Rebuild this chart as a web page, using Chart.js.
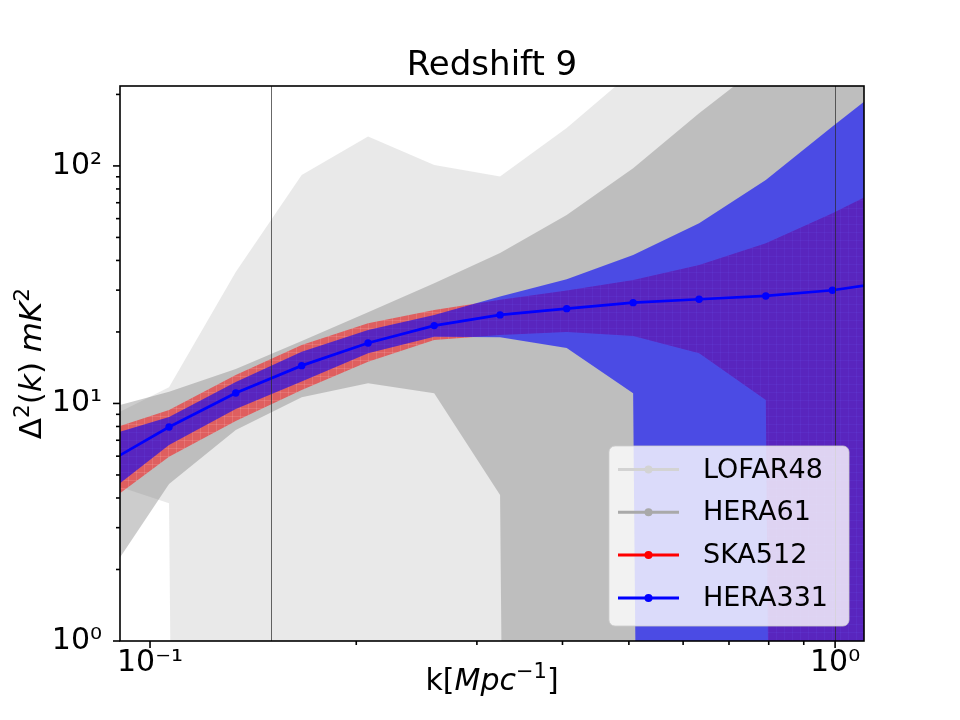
<!DOCTYPE html>
<html lang="en">
<head>
<meta charset="UTF-8" />
<title>Redshift 9</title>
<script src="https://cdn.jsdelivr.net/npm/chart.js"></script>
<style>
  html, body { margin: 0; padding: 0; background: #fff; }
  #chart { display: block; }
</style>
</head>
<body>
<canvas id="chart" width="960" height="720"></canvas>
<script>
// k bins [Mpc^-1] (first and last lie just outside the axes)
const kValues = [0.0853, 0.1066, 0.1334, 0.1665, 0.2081, 0.2599, 0.3243, 0.4057, 0.5072, 0.6331, 0.7922, 0.991, 1.24];

// lower bound that is zero / not detected: drops off the log axis
const F = 1e-30;

// fiducial power spectrum (HERA331 line)
const hera331Line  = [5.5, 7.96, 11.07, 14.43, 17.98, 21.27, 23.59, 25.07, 26.57, 27.46, 28.36, 29.97, 32.9];

// error bands, upper / lower
const lofarUpper   = [8.5, 11.7, 35.8, 91.6, 132.9, 101, 90.2, 144.5, 250, 400, 600, 900, 1300];
const lofarLower   = [4.7, 3.8, F, F, F, F, F, F, F, F, F, F, F];
const hera61Upper  = [9.42, 11.2, 13.97, 18.3, 24.2, 32.1, 43.0, 62.2, 97.8, 166.7, 275, 470, 800];
const hera61Lower  = [1.75, 4.58, 7.74, 10.62, 12.17, 11.04, 4.12, F, F, F, F, F, F];
const ska512Upper  = [7.62, 9.39, 13.18, 17.63, 21.77, 24.76, 27.3, 29.86, 33.1, 38.3, 47.3, 63.2, 87.3];
const ska512Lower  = [3.70, 5.97, 8.44, 11.4, 15.0, 18.5, 19.43, 20.0, 19.24, 16.27, 10.35, F, F];
const hera331Upper = [7.23, 8.77, 12.32, 16.52, 20.4, 23.6, 28.2, 33.3, 42.2, 57.4, 87.3, 146.4, 244];
const hera331Lower = [4.05, 6.69, 9.48, 12.36, 16.27, 19.11, 19.0, 17.1, 11.04, F, F, F, F];

// axes
const xLimits = [0.0904, 1.102];
const yLimits = [1, 217];
const xTickValues = [0.1, 1];
const xTickLabels = ['10\u207B\u00B9', '10\u2070'];
const yTickValues = [1, 10, 100];
const yTickLabels = ['10\u2070', '10\u00B9', '10\u00B2'];
const kLines = [0.15, 1.0];

const legendNames  = ['LOFAR48', 'HERA61', 'SKA512', 'HERA331'];
const legendColors = ['#d3d3d3', '#a9a9a9', '#ff0000', '#0000ff'];

const FONT = '"DejaVu Sans"';

// red band is (faintly) hatched in the original
function hatch() {
  const c = document.createElement('canvas');
  c.width = 8; c.height = 8;
  const g = c.getContext('2d');
  g.fillStyle = 'rgba(255,0,0,0.5)';
  g.fillRect(0, 0, 8, 8);
  g.fillStyle = 'rgba(255,200,200,0.18)';
  g.fillRect(0, 0, 8, 1);
  g.fillRect(0, 0, 1, 8);
  return g.createPattern(c, 'repeat');
}

const pts = vals => kValues.map((k, i) => ({ x: k, y: vals[i] }));

function band(upper, lower, color, order) {
  const common = { borderColor: 'transparent', borderWidth: 0, pointRadius: 0, order: order };
  return [
    Object.assign({ data: pts(upper), fill: '+1', backgroundColor: color }, common),
    Object.assign({ data: pts(lower), fill: false }, common)
  ];
}

// draw text made of plain / italic / superscript parts, centred on 0
function drawRich(ctx, parts, size) {
  let w = 0;
  const m = parts.map(p => {
    const s = p.sup ? size * 0.7 : size;
    const f = (p.it ? 'italic ' : '') + s + 'px ' + FONT;
    ctx.font = f;
    const pw = ctx.measureText(p.t).width;
    w += pw;
    return { f, pw };
  });
  let x = -w / 2;
  ctx.textAlign = 'left';
  ctx.textBaseline = 'alphabetic';
  parts.forEach((p, i) => {
    ctx.font = m[i].f;
    ctx.fillText(p.t, x, p.sup ? -size * 0.4 : 0);
    x += m[i].pw;
  });
}

const decorations = {
  id: 'decorations',
  afterDatasetsDraw(chart) {
    const ctx = chart.ctx, a = chart.chartArea;
    const xs = chart.scales.x, ys = chart.scales.y;
    ctx.save();
    // vertical marker lines
    ctx.beginPath();
    ctx.rect(a.left, a.top, a.right - a.left, a.bottom - a.top);
    ctx.clip();
    ctx.strokeStyle = 'rgba(40,40,40,0.7)';
    ctx.lineWidth = 1;
    kLines.forEach(k => {
      const px = Math.round(xs.getPixelForValue(k)) + 0.5;
      ctx.beginPath();
      ctx.moveTo(px, a.top);
      ctx.lineTo(px, a.bottom);
      ctx.stroke();
    });
    ctx.restore();

    ctx.save();
    ctx.strokeStyle = '#000';
    ctx.lineWidth = 1.6;
    // tick marks (major 7px, minor 4px)
    for (let e = -2; e <= 2; e++) {
      for (let m = 1; m <= 9; m++) {
        const v = m * Math.pow(10, e);
        const len = m === 1 ? 7 : 4;
        if (v >= xLimits[0] && v <= xLimits[1]) {
          const px = xs.getPixelForValue(v);
          ctx.beginPath(); ctx.moveTo(px, a.bottom); ctx.lineTo(px, a.bottom + len); ctx.stroke();
        }
        if (v >= yLimits[0] && v <= yLimits[1]) {
          const py = ys.getPixelForValue(v);
          ctx.beginPath(); ctx.moveTo(a.left, py); ctx.lineTo(a.left - len, py); ctx.stroke();
        }
      }
    }
    // frame
    ctx.strokeRect(a.left, a.top, a.right - a.left, a.bottom - a.top);
    ctx.restore();
  },
  afterDraw(chart) {
    const ctx = chart.ctx, a = chart.chartArea;
    const cx = (a.left + a.right) / 2, cy = (a.top + a.bottom) / 2;
    ctx.save();
    ctx.fillStyle = '#000';

    // title
    ctx.font = '34px ' + FONT;
    ctx.textAlign = 'center';
    ctx.textBaseline = 'alphabetic';
    ctx.fillText('Redshift 9', cx, 75);

    // x label
    ctx.save();
    ctx.translate(cx, 690);
    drawRich(ctx, [{ t: 'k[' }, { t: 'Mpc', it: 1 }, { t: '\u22121', sup: 1 }, { t: ']' }], 30);
    ctx.restore();

    // y label
    ctx.save();
    ctx.translate(41, cy);
    ctx.rotate(-Math.PI / 2);
    drawRich(ctx, [{ t: '\u0394' }, { t: '2', sup: 1 }, { t: '(' }, { t: 'k', it: 1 }, { t: ')' },
                   { t: ' ' }, { t: 'mK', it: 1 }, { t: '2', sup: 1 }], 31);
    ctx.restore();

    // legend
    const bx = 609, by = 446, bw = 240, bh = 180, r = 6;
    ctx.beginPath();
    ctx.moveTo(bx + r, by);
    ctx.arcTo(bx + bw, by, bx + bw, by + bh, r);
    ctx.arcTo(bx + bw, by + bh, bx, by + bh, r);
    ctx.arcTo(bx, by + bh, bx, by, r);
    ctx.arcTo(bx, by, bx + bw, by, r);
    ctx.closePath();
    ctx.fillStyle = 'rgba(255,255,255,0.8)';
    ctx.fill();
    ctx.strokeStyle = 'rgba(204,204,204,0.8)';
    ctx.lineWidth = 1;
    ctx.stroke();

    ctx.font = '27px ' + FONT;
    ctx.textAlign = 'left';
    ctx.textBaseline = 'middle';
    legendNames.forEach((name, i) => {
      const y = 469.5 + i * 42.8;
      ctx.strokeStyle = legendColors[i];
      ctx.lineWidth = 3;
      ctx.beginPath(); ctx.moveTo(618, y); ctx.lineTo(679, y); ctx.stroke();
      ctx.fillStyle = legendColors[i];
      ctx.beginPath(); ctx.arc(648.5, y, 4, 0, Math.PI * 2); ctx.fill();
      ctx.fillStyle = '#000';
      ctx.fillText(name, 703, y + 1);
    });
    ctx.restore();
  }
};

const datasets = [
  {
    data: pts(hera331Line),
    borderColor: '#0000ff',
    backgroundColor: '#0000ff',
    borderWidth: 2.7,
    pointRadius: 3.7,
    pointBorderWidth: 0,
    fill: false,
    order: 0
  },
  ...band(hera331Upper, hera331Lower, 'rgba(0,0,255,0.6)', 1),
  ...band(ska512Upper, ska512Lower, hatch(), 2),
  ...band(hera61Upper, hera61Lower, 'rgba(128,128,128,0.4)', 3),
  ...band(lofarUpper, lofarLower, 'rgba(211,211,211,0.5)', 4)
];

new Chart(document.getElementById('chart'), {
  type: 'line',
  data: { datasets: datasets },
  options: {
    responsive: false,
    devicePixelRatio: 1,
    animation: false,
    events: [],
    layout: { padding: { top: 86, right: 96, left: 0, bottom: 0 } },
    elements: { line: { tension: 0 } },
    plugins: {
      legend: { display: false },
      title: { display: false },
      tooltip: { enabled: false }
    },
    scales: {
      x: {
        type: 'logarithmic',
        min: xLimits[0],
        max: xLimits[1],
        grid: { display: false, drawTicks: false },
        border: { display: false },
        afterBuildTicks: s => { s.ticks = xTickValues.map(v => ({ value: v })); },
        afterFit: s => { s.height = 79; },
        ticks: {
          autoSkip: false,
          maxRotation: 0,
          padding: 4,
          color: '#000',
          font: { family: 'DejaVu Sans', size: 30 },
          callback: v => xTickLabels[xTickValues.indexOf(v)]
        }
      },
      y: {
        type: 'logarithmic',
        min: yLimits[0],
        max: yLimits[1],
        grid: { display: false, drawTicks: false },
        border: { display: false },
        afterBuildTicks: s => { s.ticks = yTickValues.map(v => ({ value: v })); },
        afterFit: s => { s.width = 120; },
        ticks: {
          autoSkip: false,
          padding: 18,
          color: '#000',
          font: { family: 'DejaVu Sans', size: 30 },
          callback: v => yTickLabels[yTickValues.indexOf(v)]
        }
      }
    }
  },
  plugins: [decorations]
});
</script>
</body>
</html>
